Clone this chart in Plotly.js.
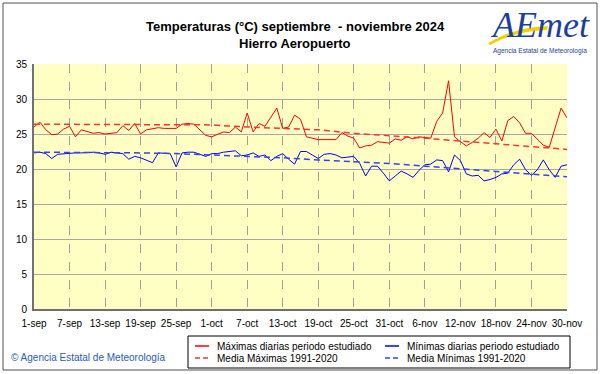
<!DOCTYPE html>
<html><head><meta charset="utf-8">
<script src="https://cdn.plot.ly/plotly-3.0.1.min.js"></script>
<style>html,body{margin:0;padding:0;background:#fff}#chart{width:601px;height:374px}</style>
</head><body><div id="chart"></div>
<script>
const startDate = '2024-09-01';
const tickLabels = ['1-sep','7-sep','13-sep','19-sep','25-sep','1-oct','7-oct','13-oct','19-oct','25-oct','31-oct','6-nov','12-nov','18-nov','24-nov','30-nov'];
const seriesNames = ['Máximas diarias periodo estudiado','Mínimas diarias periodo estudiado','Media Máximas 1991-2020','Media Mínimas 1991-2020'];
const maxTemps = [26.0,26.7,25.6,24.9,25.0,25.7,26.1,24.6,25.6,25.3,
  25.1,25.2,25.0,25.1,25.2,26.2,25.5,26.5,25.0,25.6,
  25.7,25.9,25.8,25.8,25.8,26.4,26.5,26.4,25.6,24.8,
  24.6,24.9,25.3,25.2,26.0,25.3,28.0,25.3,26.5,26.1,
  27.4,28.7,25.8,26.0,27.7,27.1,24.6,24.4,24.2,24.2,
  24.2,24.2,25.2,24.7,24.4,23.0,23.3,23.4,23.9,23.8,
  23.7,24.3,24.1,24.6,24.3,24.6,24.5,24.4,26.8,28.0,
  32.6,24.6,23.9,23.3,23.8,24.4,25.2,24.5,25.7,24.0,
  26.9,27.5,26.6,25.1,25.1,24.2,23.4,23.1,25.8,28.7,27.3];
const minTemps = [22.3,22.4,22.2,21.5,22.1,22.2,22.3,22.3,22.3,22.4,
  22.4,22.3,22.1,22.4,22.3,22.2,21.4,21.8,21.6,21.3,
  20.9,22.3,22.3,22.2,20.3,22.3,22.4,22.4,22.1,21.8,
  22.2,22.2,22.4,22.5,22.6,21.9,22.0,22.3,21.8,22.0,
  21.2,21.8,22.2,21.4,20.7,22.5,22.5,22.0,21.5,22.1,
  22.2,22.0,21.6,21.7,21.8,20.8,19.0,20.4,20.4,19.4,
  18.3,19.0,19.7,19.3,18.8,19.8,20.6,20.7,21.3,21.2,
  19.6,22.0,21.2,19.3,19.0,19.1,18.3,18.5,18.8,19.3,
  19.4,20.6,21.4,19.9,19.1,19.9,21.3,19.9,18.8,20.4,20.6];
const meanMaxVals = [26.4,26.4,26.4,26.4,26.4,26.3,26.0,25.8,25.6,25.1,24.8,24.4,24.0,23.6,23.2,22.8];
const meanMinVals = [22.4,22.4,22.4,22.3,22.2,22.0,21.9,21.6,21.3,21.1,20.8,20.4,20.0,19.6,19.2,18.9];

function dayStr(i){
  const d = new Date(Date.parse(startDate + 'T00:00:00Z') + i*86400000);
  return d.toISOString().slice(0,10);
}
const days = maxTemps.map((_,i)=>dayStr(i));
const tickDates = tickLabels.map((_,i)=>dayStr(i*6));

// pixel -> paper helpers (plot area 34..567 x 64..309)
const L=34, R=567, T=64, B=309;
const px = x => (x-L)/(R-L);
const py = y => (B-y)/(B-T);

const FONT = 'Liberation Sans, Arial, sans-serif';
const colors = ['#ff0000','#0000ff','#ff3333','#3344ee'];
const dashes = ['solid','solid','5px,3px','5px,3px'];
const traces = [
  {x: days, y: maxTemps, type:'scatter', mode:'lines', name:seriesNames[0], line:{color:colors[0], width:1}},
  {x: days, y: minTemps, type:'scatter', mode:'lines', name:seriesNames[1], line:{color:colors[1], width:1}},
  {x: tickDates, y: meanMaxVals, type:'scatter', mode:'lines', name:seriesNames[2], line:{color:colors[2], width:1.5, dash:'6px,4px'}},
  {x: tickDates, y: meanMinVals, type:'scatter', mode:'lines', name:seriesNames[3], line:{color:colors[3], width:1.5, dash:'6px,4px'}}
];

const shapes = [
  {type:'rect', xref:'paper', yref:'paper', x0:px(3), x1:px(597), y0:py(3), y1:py(370),
   line:{color:'#505050', width:1}, fillcolor:'rgba(0,0,0,0)', layer:'below'},
  {type:'path', xref:'paper', yref:'paper',
   path:`M ${px(488)} ${py(43)} Q ${px(515)} ${py(27)} ${px(548)} ${py(26)} L ${px(547)} ${py(30)} Q ${px(515)} ${py(31)} ${px(490)} ${py(45)} Z`,
   fillcolor:'#f5d000', line:{width:0}, layer:'below'},
  // legend box
  {type:'rect', xref:'paper', yref:'paper', x0:px(188), x1:px(570), y0:py(336), y1:py(368),
   line:{color:'#000', width:1}, fillcolor:'#ffffff'}
];
const annotations = [
  {text:'Temperaturas (°C) septiembre\u00a0 - noviembre 2024', xref:'paper', yref:'paper', x:px(295), y:py(27),
   xanchor:'center', yanchor:'middle', showarrow:false, font:{family:FONT, size:13, color:'#000', weight:'bold'}},
  {text:'Hierro Aeropuerto', xref:'paper', yref:'paper', x:px(295), y:py(44),
   xanchor:'center', yanchor:'middle', showarrow:false, font:{family:FONT, size:13, color:'#000', weight:'bold'}},
  {text:'© Agencia Estatal de Meteorología', xref:'paper', yref:'paper', x:px(9), y:py(357),
   xanchor:'left', yanchor:'middle', showarrow:false, font:{family:FONT, size:10, color:'#2a5bb8'}},
  {text:'AEmet', xref:'paper', yref:'paper', x:px(540), y:py(25), height:30, valign:'middle',
   xanchor:'center', yanchor:'middle', showarrow:false, font:{family:'Liberation Serif, serif', size:36, color:'#1c3f9e', style:'italic'}},
  {text:'Agencia Estatal de Meteorología', xref:'paper', yref:'paper', x:px(540), y:py(51),
   xanchor:'center', yanchor:'middle', showarrow:false, font:{family:FONT, size:6.5, color:'#1c3f9e'}}
];
// manual two-column legend
const legCols = [195, 385], legRows = [346, 358];
seriesNames.forEach((nm, i) => {
  const cx = legCols[i % 2], cy = legRows[Math.floor(i / 2)];
  shapes.push({type:'line', xref:'paper', yref:'paper', x0:px(cx), x1:px(cx+14), y0:py(cy), y1:py(cy),
    line:{color:colors[i], width:1.5, dash:dashes[i]}});
  annotations.push({text:nm, xref:'paper', yref:'paper', x:px(cx+20), y:py(cy), xanchor:'left', yanchor:'middle',
    showarrow:false, font:{family:FONT, size:10, color:'#000'}});
});

const layout = {
  width:601, height:374,
  margin:{l:L, r:601-R, t:T, b:374-B, pad:0},
  paper_bgcolor:'#ffffff', plot_bgcolor:'#ffffc4',
  font:{family:FONT, size:10, color:'#000'},
  showlegend:false,
  xaxis:{type:'date', range:[days[0], days[days.length-1]], tickvals:tickDates, ticktext:tickLabels,
    showgrid:true, gridcolor:'#a0a0a0', griddash:'dash', gridwidth:1,
    showline:true, linecolor:'#707070', linewidth:2, ticks:'', zeroline:false,
    tickfont:{family:FONT, size:10, color:'#000'}, ticklabelstandoff:4, fixedrange:true},
  yaxis:{range:[0,35], tick0:0, dtick:5, showgrid:true, gridcolor:'#a8a8a8', gridwidth:1,
    showline:true, linecolor:'#707070', linewidth:2, ticks:'', zeroline:false,
    tickfont:{family:FONT, size:10, color:'#000'}, ticklabelstandoff:3, fixedrange:true},
  shapes: shapes,
  annotations: annotations
};
Plotly.newPlot('chart', traces, layout, {displayModeBar:false, staticPlot:true});
</script></body></html>
